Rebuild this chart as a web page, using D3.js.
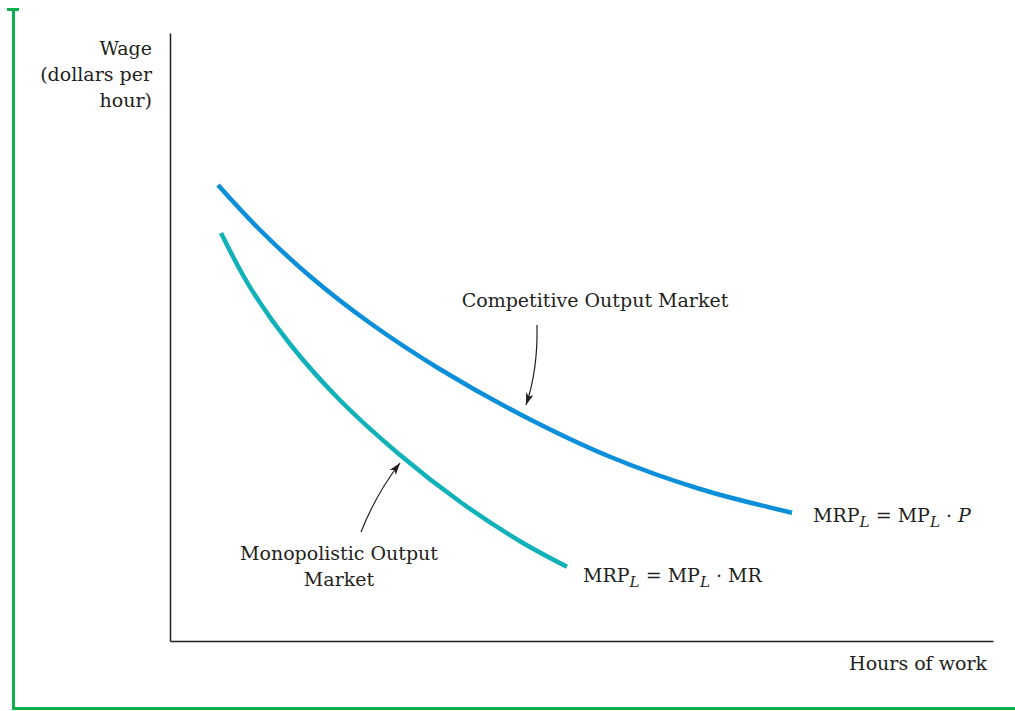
<!DOCTYPE html>
<html>
<head>
<meta charset="utf-8">
<script src="https://cdn.jsdelivr.net/npm/d3@7"></script>
<style>
  html, body { margin: 0; padding: 0; background: #fff; }
  svg { display: block; }
  text { font-family: "DejaVu Serif", "Liberation Serif", serif; fill: #231f20; }
</style>
</head>
<body>
<svg id="chart" width="1015" height="711"></svg>
<script>
// ---- Data (abstract units: hours of work 0-100, wage 0-100) ----
const competitiveX = [5.83, 10.94, 17.01, 24.30, 32.81, 42.53, 53.46, 64.40, 75.58];
const competitiveY = [75.0, 67.6, 60.0, 52.3, 44.7, 37.3, 30.3, 25.0, 21.1];
const monopolisticX = [6.20, 9.72, 14.58, 20.66, 27.95, 35.24, 42.53, 48.24];
const monopolisticY = [67.1, 58.2, 48.85, 39.6, 30.6, 22.9, 16.4, 12.2];
const seriesNames = ["Competitive Output Market", "Monopolistic Output Market"];
const yAxisLabel = ["Wage", "(dollars per", "hour)"];
const xAxisLabel = "Hours of work";

// ---- Layout ----
const svg = d3.select("#chart");
const x = d3.scaleLinear().domain([0, 100]).range([170, 993]);
const y = d3.scaleLinear().domain([0, 100]).range([641, 33]);

const ink = "#231f20";
const blue = "#0a8fd8";
const teal = "#10b1b9";
const green = "#0cb04f";

// green frame
svg.append("path")
  .attr("d", "M7,9.5H19 M13.5,9V708.5H1015")
  .attr("fill", "none").attr("stroke", green).attr("stroke-width", 3);

// arrow marker
const defs = svg.append("defs");
defs.append("marker")
  .attr("id", "ah").attr("viewBox", "0 0 12 8")
  .attr("refX", 12).attr("refY", 4)
  .attr("markerWidth", 12).attr("markerHeight", 8)
  .attr("markerUnits", "userSpaceOnUse")
  .attr("orient", "auto")
  .append("path").attr("d", "M0,0 L12,4 L0,8 L3,4 Z").attr("fill", ink);

// axes
const xAxis = d3.axisBottom(x).ticks(0).tickSize(0).tickSizeOuter(0);
const yAxis = d3.axisLeft(y).ticks(0).tickSize(0).tickSizeOuter(0);
svg.append("g").attr("transform", `translate(0,${y(0)})`).call(xAxis)
  .call(g => g.select(".domain").attr("stroke", ink).attr("stroke-width", 1.5));
svg.append("g").attr("transform", `translate(${x(0)},0)`).call(yAxis)
  .call(g => g.select(".domain").attr("stroke", ink).attr("stroke-width", 1.5));

// curves
const line = d3.line().x(d => x(d[0])).y(d => y(d[1])).curve(d3.curveCatmullRom.alpha(0.5));
const comp = competitiveX.map((v, i) => [v, competitiveY[i]]);
const mono = monopolisticX.map((v, i) => [v, monopolisticY[i]]);
svg.append("path").datum(comp).attr("d", line)
  .attr("fill", "none").attr("stroke", blue).attr("stroke-width", 4.5);
svg.append("path").datum(mono).attr("d", line)
  .attr("fill", "none").attr("stroke", teal).attr("stroke-width", 4.5);

// axis labels
const fs = 19;
const yl = svg.append("text").attr("text-anchor", "end").attr("font-size", fs);
yAxisLabel.forEach((t, i) => yl.append("tspan").attr("x", 152).attr("y", 55 + i * 26).text(t));
svg.append("text").attr("text-anchor", "end").attr("font-size", fs)
  .attr("x", 987).attr("y", 670).text(xAxisLabel);

// series annotations
svg.append("text").attr("font-size", fs).attr("text-anchor", "middle")
  .attr("x", 595).attr("y", 307).text(seriesNames[0]);
const mt = svg.append("text").attr("font-size", fs).attr("text-anchor", "middle");
mt.append("tspan").attr("x", 339).attr("y", 560).text("Monopolistic Output");
mt.append("tspan").attr("x", 339).attr("y", 586).text("Market");

// arrows
svg.append("path").attr("d", "M537,325 Q538,370 526,405")
  .attr("fill", "none").attr("stroke", ink).attr("stroke-width", 1.2).attr("marker-end", "url(#ah)");
svg.append("path").attr("d", "M361,532 Q376,494 400,463")
  .attr("fill", "none").attr("stroke", ink).attr("stroke-width", 1.2).attr("marker-end", "url(#ah)");

// curve equations
function eq(x0, y0, parts) {
  const t = svg.append("text").attr("x", x0).attr("y", y0).attr("font-size", fs);
  parts.forEach(p => {
    const s = t.append("tspan").text(p.t);
    if (p.sub) s.attr("font-style", "italic").attr("font-size", fs * 0.8).attr("dy", 5);
    if (p.up) s.attr("dy", -5);
    if (p.it) s.attr("font-style", "italic");
  });
}
eq(813, 522, [{t: "MRP"}, {t: "L", sub: true}, {t: " = MP", up: true}, {t: "L", sub: true}, {t: " · ", up: true}, {t: "P", it: true}]);
eq(583, 582, [{t: "MRP"}, {t: "L", sub: true}, {t: " = MP", up: true}, {t: "L", sub: true}, {t: " · MR", up: true}]);
</script>
</body>
</html>
